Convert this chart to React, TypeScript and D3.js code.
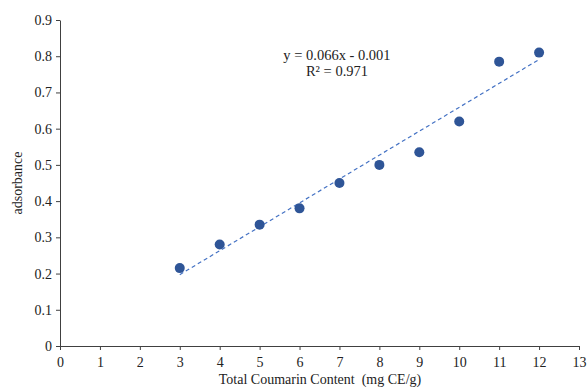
import React, { useRef, useEffect } from 'react';
import * as d3 from 'd3';

const concentrations = [3, 4, 5, 6, 7, 8, 9, 10, 11, 12];
const absorbances = [0.215, 0.28, 0.335, 0.38, 0.45, 0.5, 0.535, 0.62, 0.785, 0.81];
const xTicks = [0, 1, 2, 3, 4, 5, 6, 7, 8, 9, 10, 11, 12, 13];
const yTicks = [0, 0.1, 0.2, 0.3, 0.4, 0.5, 0.6, 0.7, 0.8, 0.9];
const slope = 0.066;
const intercept = -0.001;
const equationLines = ['y = 0.066x - 0.001', 'R² = 0.971'];

const App = () => {
  const chartRef = useRef<SVGSVGElement>(null);

  useEffect(() => {
    const width = 588, height = 388;
    const margin = { top: 20, right: 9, bottom: 42, left: 60 };
    const font = 'Times New Roman, Liberation Serif, Tinos, serif';

    const svg = d3.select(chartRef.current);
    svg.selectAll('*').remove();

    const x = d3.scaleLinear().domain([0, 13]).range([margin.left, width - margin.right]);
    const y = d3.scaleLinear().domain([0, 0.9]).range([height - margin.bottom, margin.top]);

    const xAxis = svg.append('g')
      .attr('transform', `translate(0,${y(0)})`)
      .call(d3.axisBottom(x).tickValues(xTicks).tickSize(4).tickSizeOuter(0).tickFormat(d3.format('d')));
    const yAxis = svg.append('g')
      .attr('transform', `translate(${x(0)},0)`)
      .call(d3.axisLeft(y).tickValues(yTicks).tickSize(4).tickSizeOuter(0).tickFormat(d => (d === 0 ? '0' : d3.format('.1f')(d as number))));

    [xAxis, yAxis].forEach(a => {
      a.selectAll('path, line').attr('stroke', '#404040').attr('stroke-width', 1);
      a.selectAll('text').attr('font-family', font).attr('font-size', 14).attr('fill', '#222');
    });
    xAxis.selectAll('text').attr('dy', '0.9em').attr('y', 8);
    yAxis.selectAll('text').attr('x', -8);

    // trendline
    svg.append('line')
      .attr('x1', x(concentrations[0]))
      .attr('y1', y(slope * concentrations[0] + intercept))
      .attr('x2', x(concentrations[concentrations.length - 1]))
      .attr('y2', y(slope * concentrations[concentrations.length - 1] + intercept))
      .attr('stroke', '#4472C4')
      .attr('stroke-width', 1.2)
      .attr('stroke-dasharray', '4,3');

    svg.selectAll('.pt')
      .data(concentrations)
      .enter()
      .append('circle')
      .attr('class', 'pt')
      .attr('cx', d => x(d))
      .attr('cy', (d, i) => y(absorbances[i]))
      .attr('r', 5)
      .attr('fill', '#2F5597');

    svg.append('text')
      .attr('x', 337)
      .attr('y', 60)
      .attr('text-anchor', 'middle')
      .attr('font-family', font)
      .attr('font-size', 14.5)
      .attr('fill', '#222')
      .selectAll('tspan')
      .data(equationLines)
      .enter()
      .append('tspan')
      .attr('x', 337)
      .attr('dy', (d, i) => (i === 0 ? 0 : 16))
      .text(d => d);

    svg.append('text')
      .attr('transform', `translate(22,${(y(0) + y(0.9)) / 2}) rotate(-90)`)
      .attr('text-anchor', 'middle')
      .attr('font-family', font)
      .attr('font-size', 14)
      .attr('fill', '#222')
      .text('adsorbance');

    svg.append('text')
      .attr('x', 320)
      .attr('y', 384)
      .attr('text-anchor', 'middle')
      .attr('font-family', font)
      .attr('font-size', 14)
      .attr('fill', '#222')
      .style('white-space', 'pre')
      .text('Total Coumarin Content  (mg CE/g)');
  }, []);

  return (
    <svg ref={chartRef} width={588} height={388}
      style={{ position: 'absolute', left: 0, top: 0, background: '#fff' }} />
  );
};

export default App;
